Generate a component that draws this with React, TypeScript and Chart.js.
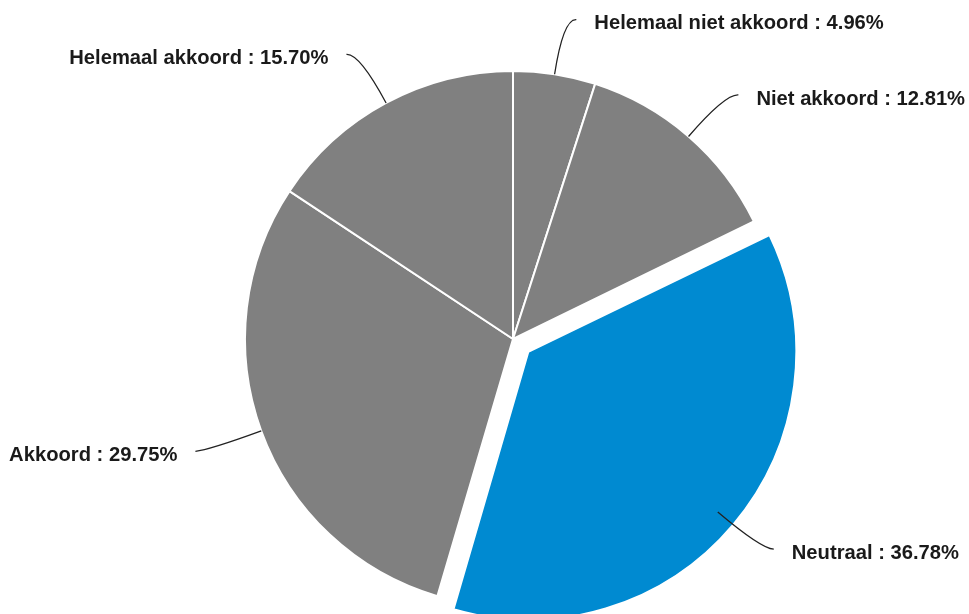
import React, { useEffect, useRef } from "react";
import { Chart, registerables } from "chart.js";

Chart.register(...registerables);

const categories = ["Helemaal niet akkoord", "Niet akkoord", "Neutraal", "Akkoord", "Helemaal akkoord"];
const percentages = [4.96, 12.81, 36.78, 29.75, 15.7];
const sliceColors = ["#808080", "#808080", "#008ad1", "#808080", "#808080"];
const explode = [0, 0, 80, 0, 0];

const W = 969;
const H = 614;

const labelPlugin = {
  id: "leaderLabels",
  beforeDatasetsDraw(chart: any) {
    const meta = chart.getDatasetMeta(0);
    const R = (meta.controller as any).outerRadius;
    meta.data.forEach((arc: any) => {
      const off = (arc.options.offset || 0) / 4;
      const circ = arc.endAngle - arc.startAngle;
      const fix = 1 - Math.sin(Math.min(Math.PI, circ));
      arc.outerRadius = R - off * fix;
    });
  },
  afterDatasetsDraw(chart: any) {
    const ctx = chart.ctx;
    const meta = chart.getDatasetMeta(0);
    const R = (meta.controller as any).outerRadius;
    ctx.save();
    ctx.font = 'bold 20.2px "Liberation Sans", Arial, sans-serif';
    ctx.textBaseline = "middle";
    meta.data.forEach((arc: any, i: number) => {
      const mid = (arc.startAngle + arc.endAngle) / 2;
      const cx = arc.x;
      const cy = arc.y;
      const dx = Math.cos(mid);
      const dy = Math.sin(mid);
      const side = dx >= 0 ? 1 : -1;
      const sx = cx + dx * R;
      const sy = cy + dy * R;
      const ex0 = cx + dx * R * 1.21;
      const ey0 = cy + dy * R * 1.21;
      const ex = ex0 + side * 13;
      const ey = ey0 + 1;
      ctx.beginPath();
      ctx.moveTo(sx, sy);
      ctx.quadraticCurveTo(ex0, ey0, ex, ey);
      ctx.strokeStyle = "#222";
      ctx.lineWidth = 1.3;
      ctx.stroke();
      const text = `${categories[i]} : ${percentages[i].toFixed(2)}%`;
      ctx.fillStyle = "#1a1a1a";
      ctx.textAlign = side > 0 ? "left" : "right";
      ctx.fillText(text, ex + side * 18, ey + 4);
    });
    ctx.restore();
  },
};

export default function App() {
  const ref = useRef<HTMLCanvasElement | null>(null);
  useEffect(() => {
    if (!ref.current) return;
    const chart = new Chart(ref.current, {
      type: "pie",
      data: {
        labels: categories,
        datasets: [
          {
            data: percentages,
            backgroundColor: sliceColors,
            borderColor: "#ffffff",
            borderWidth: 2,
            offset: explode,
            clip: false as any,
          },
        ],
      },
      options: {
        responsive: false,
        animation: false,
        radius: 268,
        layout: { padding: { left: 157, right: 100, top: 72, bottom: 8 } },
        plugins: { legend: { display: false }, tooltip: { enabled: false } },
      } as any,
      plugins: [labelPlugin],
    });
    return () => chart.destroy();
  }, []);
  return (
    <div style={{ position: "absolute", left: 0, top: 0, width: W, height: H, overflow: "hidden", background: "#fff" }}>
      <canvas ref={ref} width={W} height={H} style={{ width: W, height: H, display: "block" }} />
    </div>
  );
}
